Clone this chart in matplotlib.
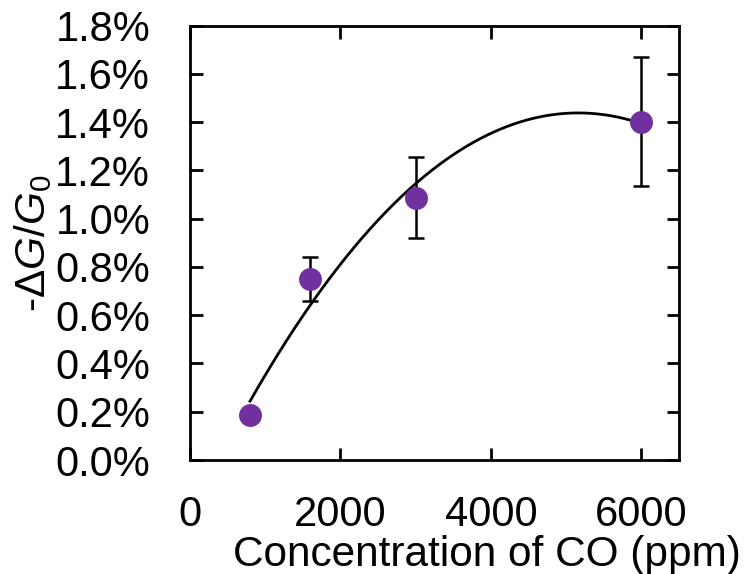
import numpy as np
import matplotlib
matplotlib.use("Agg")
import matplotlib.pyplot as plt
from matplotlib.ticker import FuncFormatter

# Data (response in percent)
conc_ppm = [800, 1600, 3000, 6000]
response_pct = [0.186, 0.749, 1.088, 1.402]
error_pct = [0.0, 0.092, 0.167, 0.267]

x_ticks = [0, 2000, 4000, 6000]
y_ticks = [0.0, 0.2, 0.4, 0.6, 0.8, 1.0, 1.2, 1.4, 1.6, 1.8]

plt.rcParams['font.family'] = ['Liberation Sans', 'DejaVu Sans']
plt.rcParams['mathtext.fontset'] = 'custom'
plt.rcParams['mathtext.rm'] = 'Liberation Sans'
plt.rcParams['mathtext.it'] = 'Liberation Sans:italic'
plt.rcParams['mathtext.bf'] = 'Liberation Sans:bold'

FS = 30
LFS = 30.5
fig = plt.figure(figsize=(7.47, 5.74), dpi=100)
ax = fig.add_axes([0.2541, 0.1986, 0.909 - 0.2541, 0.9552 - 0.1986])

# quadratic fit through the data
coef = np.polyfit(conc_ppm, response_pct, 2)
xf = np.linspace(min(conc_ppm), max(conc_ppm), 300)
ax.plot(xf, np.polyval(coef, xf), color='black', lw=2.0, zorder=2)

ax.errorbar(conc_ppm, response_pct, yerr=error_pct, fmt='none', ecolor='black',
            elinewidth=1.8, capsize=6, capthick=1.8, zorder=1)
ax.plot(conc_ppm, response_pct, 'o', color='#7030A0', markersize=16.5,
        markeredgewidth=0, zorder=3)

ax.set_xlim(0, 6500)
ax.set_ylim(0, 1.8)
ax.set_xticks(x_ticks)
ax.set_yticks(y_ticks)
ax.yaxis.set_major_formatter(FuncFormatter(lambda v, p: f"{v:.1f}%"))

for s in ax.spines.values():
    s.set_linewidth(2.0)
ax.tick_params(axis='both', which='major', direction='in', top=True, right=True,
               length=9, width=2.0, labelsize=FS)
ax.tick_params(axis='x', pad=25)
ax.tick_params(axis='y', pad=28.5)

ax.set_xlabel('Concentration of CO (ppm)', fontsize=LFS)
ax.xaxis.set_label_coords(0.6075, -0.173)
ax.set_ylabel(r'-$\Delta G/G_0$', fontsize=LFS)
ax.yaxis.set_label_coords(-0.278, 0.5)

fig.savefig('out.png', dpi=100)
